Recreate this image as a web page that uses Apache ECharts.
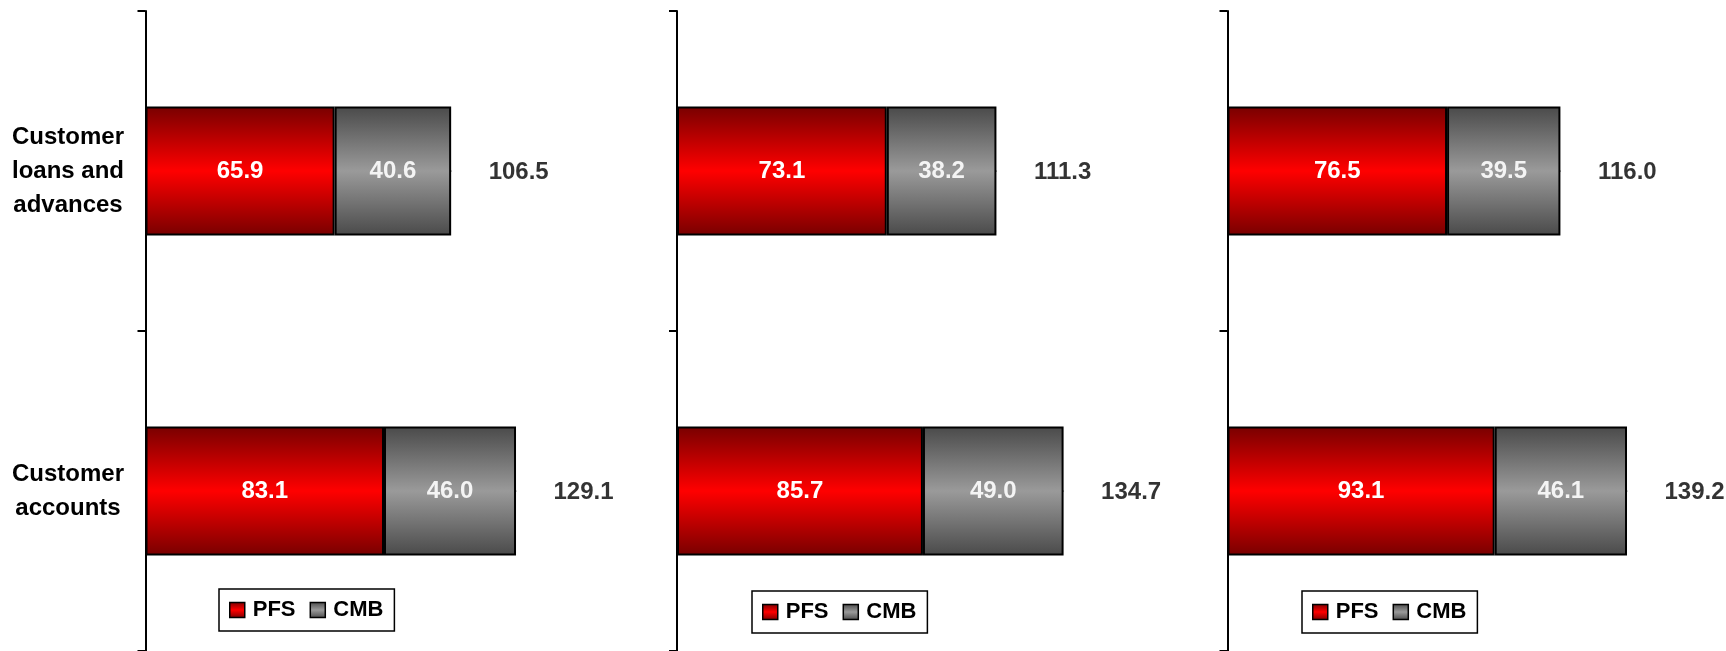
<!DOCTYPE html>
<html>
<head>
<meta charset="utf-8">
<title>Customer loans and advances / Customer accounts</title>
<script src="https://cdn.jsdelivr.net/npm/echarts@6/dist/echarts.min.js"></script>
<style>
  html, body { margin: 0; padding: 0; background: #ffffff; }
  #chart { width: 1726px; height: 651px; }
</style>
</head>
<body>
<div id="chart"></div>
<script>
// Category rows (top to bottom)
const categories = ['Customer\nloans and\nadvances', 'Customer\naccounts'];

// One entry per panel, each holding [loans, accounts]
const pfsValues = [[65.9, 83.1], [73.1, 85.7], [76.5, 93.1]];
const cmbValues = [[40.6, 46.0], [38.2, 49.0], [39.5, 46.1]];
const totalValues = [[106.5, 129.1], [111.3, 134.7], [116.0, 139.2]];

// Panel geometry
const gridLeft = [145.5, 677, 1227.5];
const legendLeft = [219, 752, 1302];
const legendTop = [589, 591, 591];
const axisMax = 170;
const pxPerUnit = 2.87;

const FONT = '"Liberation Sans", Arial, Helvetica, sans-serif';

const redFill = {
  type: 'linear', x: 0, y: 0, x2: 0, y2: 1,
  colorStops: [
    { offset: 0, color: '#780000' },
    { offset: 0.5, color: '#ff0000' },
    { offset: 1, color: '#780000' }
  ]
};
const greyFill = {
  type: 'linear', x: 0, y: 0, x2: 0, y2: 1,
  colorStops: [
    { offset: 0, color: '#4a4a4a' },
    { offset: 0.5, color: '#9a9a9a' },
    { offset: 1, color: '#4a4a4a' }
  ]
};

const grids = [], xAxes = [], yAxes = [], series = [], legends = [];

for (let p = 0; p < 3; p++) {
  grids.push({
    left: gridLeft[p], top: 11, width: axisMax * pxPerUnit, height: 642,
    containLabel: false
  });
  xAxes.push({
    type: 'value', gridIndex: p, min: 0, max: axisMax, show: false,
    splitLine: { show: false }
  });
  yAxes.push({
    type: 'category', gridIndex: p, data: categories, inverse: true,
    axisLine: { show: true, lineStyle: { color: '#000', width: 2 } },
    axisTick: { show: true, length: 8, lineStyle: { color: '#000', width: 2 } },
    axisLabel: {
      show: p === 0, align: 'center', margin: 77.5,
      fontFamily: FONT, fontSize: 24, fontWeight: 'bold', color: '#000',
      lineHeight: 34, padding: [6, 0, 0, 0]
    },
    splitLine: { show: false }
  });

  series.push({
    name: 'PFS', type: 'bar', stack: 'seg' + p,
    xAxisIndex: p, yAxisIndex: p, barWidth: 129,
    data: pfsValues[p],
    itemStyle: { color: redFill, borderColor: '#000', borderWidth: 2 },
    label: {
      show: true, position: 'inside', color: '#ffffff',
      fontFamily: FONT, fontSize: 24, fontWeight: 'bold',
      formatter: (d) => d.value.toFixed(1)
    },
    emphasis: { disabled: true }
  });
  series.push({
    name: 'CMB', type: 'bar', stack: 'seg' + p,
    xAxisIndex: p, yAxisIndex: p, barWidth: 129,
    data: cmbValues[p],
    itemStyle: { color: greyFill, borderColor: '#000', borderWidth: 2 },
    label: {
      show: true, position: 'inside', color: '#f4f4f4',
      fontFamily: FONT, fontSize: 24, fontWeight: 'bold',
      formatter: (d) => d.value.toFixed(1)
    },
    emphasis: { disabled: true }
  });
  // Totals, anchored at the end of each stacked bar (dot sits under the bar border)
  series.push({
    name: 'Total', type: 'scatter',
    xAxisIndex: p, yAxisIndex: p,
    data: totalValues[p].map((v, i) => [v, i]),
    symbolSize: 1,
    itemStyle: { color: '#000000' },
    label: {
      show: true, position: 'right', distance: 37, color: '#000000',
      fontFamily: FONT, fontSize: 24, fontWeight: 'bold',
      offset: [0, 1],
      formatter: (d) => d.value[0].toFixed(1)
    },
    z: 1,
    emphasis: { disabled: true },
    silent: true
  });

  legends.push({
    data: ['PFS', 'CMB'],
    left: legendLeft[p], top: legendTop[p],
    orient: 'horizontal',
    padding: [10, 11, 10, 10],
    itemGap: 14,
    itemWidth: 15, itemHeight: 15,
    icon: 'rect',
    borderColor: '#000', borderWidth: 1.5, borderRadius: 0,
    backgroundColor: '#fff',
    itemStyle: { borderColor: '#000', borderWidth: 1.5 },
    textStyle: {
      fontFamily: FONT, fontSize: 22, fontWeight: 'bold', color: '#000',
      padding: [0, 0, 0, 3]
    },
    selectedMode: false
  });
}

const chart = echarts.init(document.getElementById('chart'), null, { renderer: 'canvas' });
chart.setOption({
  animation: false,
  backgroundColor: '#ffffff',
  grid: grids,
  xAxis: xAxes,
  yAxis: yAxes,
  legend: legends,
  series: series
});
</script>
</body>
</html>
